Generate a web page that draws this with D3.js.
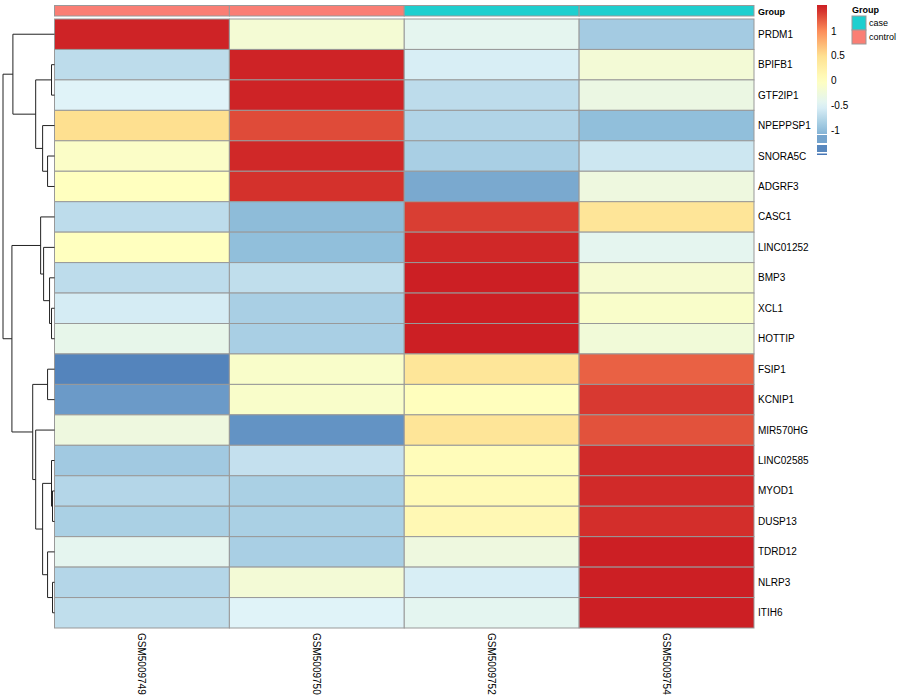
<!DOCTYPE html>
<html><head><meta charset="utf-8">
<script src="https://cdn.jsdelivr.net/npm/d3@7"></script>
<style>body{margin:0;background:#fff} text{font-family:"Liberation Sans",Arial,Helvetica,sans-serif}</style>
</head><body><svg id="c" width="900" height="700"></svg>
<script>
const genes = ["PRDM1","BPIFB1","GTF2IP1","NPEPPSP1","SNORA5C","ADGRF3","CASC1","LINC01252","BMP3","XCL1","HOTTIP","FSIP1","KCNIP1","MIR570HG","LINC02585","MYOD1","DUSP13","TDRD12","NLRP3","ITIH6"];
const samples = ["GSM5009749","GSM5009750","GSM5009752","GSM5009754"];
const groups = ["control","control","case","case"];
const groupNames = ["case","control"];
const groupColors = ["#1ECFCF","#FA7E74"];
// row-scaled values (z-scores), one row per gene
const values = [
  [1.48,-0.18,-0.42,-0.88],
  [-0.72,1.48,-0.55,-0.2],
  [-0.5,1.48,-0.72,-0.32],
  [0.5,1.3,-0.8,-1.0],
  [-0.07,1.46,-0.85,-0.62],
  [0.0,1.42,-1.15,-0.28],
  [-0.72,-1.02,1.36,0.42],
  [0.0,-1.0,1.46,-0.42],
  [-0.72,-0.7,1.5,-0.15],
  [-0.57,-0.85,1.5,-0.1],
  [-0.38,-0.85,1.5,-0.22],
  [-1.4,-0.1,0.4,1.2],
  [-1.25,-0.1,0.02,1.38],
  [-0.28,-1.3,0.42,1.27],
  [-0.9,-0.68,0.05,1.45],
  [-0.78,-0.84,0.08,1.45],
  [-0.84,-0.84,0.12,1.43],
  [-0.42,-0.85,-0.28,1.5],
  [-0.78,-0.2,-0.55,1.5],
  [-0.7,-0.5,-0.43,1.5]
];
// hclust-style merges: negative = leaf (-(index+1)), positive = earlier merge (1-based); third = height
const merges = [
  [-16,-17,2],[-19,-20,2],[-2,-3,3],[-10,-11,3],[-15,1,3],[-9,4,5],[-5,-6,7],[-12,-13,7],
  [-18,2,7],[-8,6,11],[-4,7,12],[5,9,12],[-7,10,14],[-14,12,19],[3,11,19],[8,14,22],
  [-1,15,42],[13,16,43],[17,18,52]
];
const legendTicks = [1,0.5,0,-0.5,-1];
const palette = ["#4575B4","#91BFDB","#E0F3F8","#FFFFBF","#FEE090","#FC8D59","#CC1F24"];
const valueRange = [-1.5,1.5];

const svg = d3.select("#c");
svg.append("rect").attr("width",900).attr("height",700).attr("fill","#fff");

const x = d3.scaleBand().domain(samples).range([54.5,754]);
const y = d3.scaleBand().domain(genes).range([19,628]);
const color = d3.scaleLinear()
  .domain(d3.range(palette.length).map(i => valueRange[0] + i*(valueRange[1]-valueRange[0])/(palette.length-1)))
  .range(palette).interpolate(d3.interpolateRgb).clamp(true);
const border = "#999999";

// cells
const cells = [];
genes.forEach((g,i) => samples.forEach((s,j) => cells.push({g,s,v:values[i][j]})));
svg.append("g").selectAll("rect").data(cells).join("rect")
  .attr("x", d => x(d.s)).attr("y", d => y(d.g))
  .attr("width", x.bandwidth()).attr("height", y.bandwidth())
  .attr("fill", d => color(d.v)).attr("stroke", border).attr("stroke-width", 1);

// annotation bar
const gc = d3.scaleOrdinal().domain(groupNames).range(groupColors);
svg.append("g").selectAll("rect").data(samples).join("rect")
  .attr("x", d => x(d)).attr("y", 5.5).attr("width", x.bandwidth()).attr("height", 10.5)
  .attr("fill", (d,i) => gc(groups[i])).attr("stroke", border).attr("stroke-width", 1);
svg.append("text").attr("x",758).attr("y",14.5).attr("font-size",9).attr("font-weight","bold").text("Group");

// row labels
svg.append("g").selectAll("text").data(genes).join("text")
  .attr("x",758).attr("y", d => y(d)+y.bandwidth()/2).attr("dy","0.35em")
  .attr("font-size",10).attr("fill","#000").text(d => d);

// column labels
svg.append("g").selectAll("text").data(samples).join("text")
  .attr("transform", d => `translate(${x(d)+x.bandwidth()/2},633) rotate(90)`)
  .attr("dy","0.35em").attr("font-size",10).attr("fill","#000").text(d => d);

// dendrogram
const hx = d3.scaleLinear().domain([0,52]).range([54.5,3]);
const nodeY = [], nodeH = [];
function ny(c){ return c<0 ? y(genes[-c-1]) + y.bandwidth()/2 : nodeY[c-1]; }
function nh(c){ return c<0 ? 0 : nodeH[c-1]; }
const dg = svg.append("g").attr("fill","none").attr("stroke","#222").attr("stroke-width",1);
merges.forEach((m,k) => {
  const [a,b,h] = m;
  const ya = ny(a), yb = ny(b);
  nodeY[k] = (ya+yb)/2; nodeH[k] = h;
  dg.append("path").attr("d",`M${hx(nh(a))},${ya}H${hx(h)}V${yb}H${hx(nh(b))}`);
});

// color legend
const ly = d3.scaleLinear().domain([0,1]).range([80.5,31]);
const defs = svg.append("defs");
const grad = defs.append("linearGradient").attr("id","lg").attr("x1",0).attr("x2",0).attr("y1",1).attr("y2",0);
const gTop = ly.invert(5), gBot = ly.invert(134);
d3.range(0,1.0001,0.05).forEach(t => {
  grad.append("stop").attr("offset",t).attr("stop-color",color(gBot + t*(gTop-gBot)));
});
svg.append("rect").attr("x",817).attr("y",5).attr("width",10).attr("height",129).attr("fill","url(#lg)");
[[135,143],[145,152],[153.5,155]].forEach(([a,b]) => {
  svg.append("rect").attr("x",817).attr("y",a).attr("width",10).attr("height",b-a)
    .attr("fill",color(ly.invert((a+b)/2)));
});
svg.append("g").selectAll("text").data(legendTicks).join("text")
  .attr("x",831).attr("y", d => ly(d)).attr("dy","0.35em").attr("font-size",10).text(d => d);

// annotation legend
svg.append("text").attr("x",852).attr("y",13).attr("font-size",9).attr("font-weight","bold").text("Group");
svg.append("g").selectAll("rect").data(groupNames).join("rect")
  .attr("x",852).attr("y",(d,i) => 16 + i*14).attr("width",14).attr("height",14)
  .attr("fill", d => gc(d)).attr("stroke", border).attr("stroke-width",1);
svg.append("g").selectAll("text").data(groupNames).join("text")
  .attr("x",869).attr("y",(d,i) => 23 + i*14).attr("dy","0.35em").attr("font-size",9).text(d => d);
</script></body></html>
